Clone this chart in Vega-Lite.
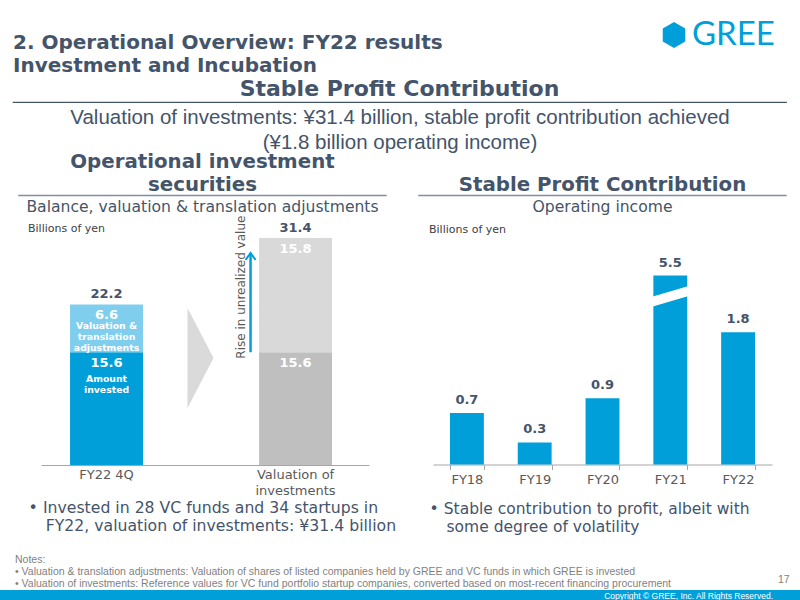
{
  "$schema": "https://vega.github.io/schema/vega-lite/v6.json",
  "padding": 0,
  "background": "white",
  "spacing": 0,
  "config": {
    "view": {"stroke": null},
    "font": "DejaVu Sans",
    "title": {"color": "#44546A", "subtitleColor": "#44546A", "fontWeight": "bold", "subtitleFontWeight": "normal", "offset": 0, "subtitlePadding": 0, "baseline": "top"},
    "axis": {"grid": false, "labelFont": "DejaVu Sans", "titleFont": "DejaVu Sans"}
  },
  "datasets": {
    "securities": [
      {"category": "FY22 4Q", "segment": "Amount invested", "value": 15.6, "note": "Amount\ninvested"},
      {"category": "FY22 4Q", "segment": "Valuation & translation adjustments", "value": 6.6, "note": "Valuation &\ntranslation\nadjustments"},
      {"category": "Valuation of investments", "segment": "Cost basis", "value": 15.6, "note": ""},
      {"category": "Valuation of investments", "segment": "Rise in unrealized value", "value": 15.8, "note": ""}
    ],
    "income": [
      {"year": "FY18", "income": 0.7},
      {"year": "FY19", "income": 0.3},
      {"year": "FY20", "income": 0.9},
      {"year": "FY21", "income": 5.5},
      {"year": "FY22", "income": 1.8}
    ]
  },
  "vconcat": [
    {
      "spacing": 0,
      "hconcat": [
        {
          "width": 640, "height": 0.01,
          "data": {"values": []}, "mark": "point",
          "title": {"text": ["2. Operational Overview: FY22 results", "Investment and Incubation"], "orient": "bottom", "anchor": "start", "fontSize": 20, "lineHeight": 23, "offset": 33, "dx": 13}
        },
        {
          "width": 160, "height": 70,
          "data": {"values": [{"brand": "GREE"}]},
          "layer": [
            {"mark": {"type": "point", "shape": "M 0 -1 L 0.866 -0.5 L 0.866 0.5 L 0 1 L -0.866 0.5 L -0.866 -0.5 Z", "size": 676, "filled": true, "opacity": 1, "color": "#009FDA", "strokeWidth": 0, "xOffset": -46}, "encoding": {}},
            {"mark": {"type": "text", "align": "left", "baseline": "middle", "dx": -28, "fontSize": 33, "font": "Lato", "color": "#009FDA"}, "encoding": {"text": {"field": "brand"}}}
          ]
        }
      ]
    },
    {
      "spacing": 0,
      "hconcat": [
        {"width": 12, "height": 0.01, "data": {"values": []}, "mark": "point"},
        {
          "width": 773, "height": 0.01,
          "data": {"values": []}, "mark": "point",
          "view": {"stroke": "#44546A", "strokeWidth": 1.2},
          "title": {"text": "Stable Profit Contribution", "fontSize": 22, "offset": 1}
        }
      ]
    },
    {
      "spacing": -3.5,
      "vconcat": [
        {
          "width": 800, "height": 0.01,
          "data": {"values": []}, "mark": "point",
          "title": {
            "text": "Valuation of investments: ¥31.4 billion, stable profit contribution achieved",
            "subtitle": "(¥1.8 billion operating income)",
            "orient": "bottom", "offset": 5,
            "font": "Liberation Sans", "subtitleFont": "Liberation Sans", "fontSize": 20.5, "subtitleFontSize": 20.5,
            "fontWeight": "normal", "subtitlePadding": 4.5
          }
        },
        {
          "spacing": 0,
          "hconcat": [
            {"width": 18, "height": 0.01, "data": {"values": []}, "mark": "point"},
            {
              "spacing": 0,
              "vconcat": [
                {
                  "width": 367, "height": 0.01,
                  "data": {"values": []}, "mark": "point",
                  "view": {"stroke": "#7F8FA4", "strokeWidth": 1.5},
                  "title": {"text": ["Operational investment", "securities"], "fontSize": 19.8, "lineHeight": 23, "offset": 1}
                },
                {
                  "width": 367, "height": 0.01,
                  "data": {"values": []}, "mark": "point",
                  "title": {"text": "Balance, valuation & translation adjustments", "orient": "bottom", "fontSize": 15.6, "fontWeight": "normal", "offset": 3}
                },
                {
                  "width": 367, "height": 243.5,
                  "data": {"name": "securities"},
                  "title": {"text": "Billions of yen", "anchor": "start", "frame": "group", "dx": 9, "fontSize": 11, "fontWeight": "normal", "color": "#404040", "offset": -18},
                  "encoding": {
                    "x": {
                      "field": "category", "type": "nominal", "sort": null,
                      "scale": {"range": [22, 350], "paddingInner": 0.614, "paddingOuter": 0.1746, "align": 0.44},
                      "axis": {
                        "labelAngle": 0, "labelFontSize": 13, "labelColor": "#595959", "labelPadding": 3.5, "labelLineHeight": 16,
                        "labelExpr": "datum.value == 'Valuation of investments' ? ['Valuation of', 'investments'] : datum.value",
                        "ticks": false, "domainColor": "#A6A6A6", "domainWidth": 1,
                        "title": ["•\u2004Invested in 28 VC funds and 34 startups in", "\u200d\u2002\u2002\u200aFY22, valuation of investments: ¥31.4 billion"],
                        "titleX": 9, "titleY": 47, "titleAlign": "left", "titleAnchor": "start", "titleBaseline": "alphabetic",
                        "titleFontSize": 15.7, "titleFontWeight": "normal", "titleColor": "#44546A", "titleLineHeight": 18
                      }
                    }
                  },
                  "layer": [
                    {
                      "mark": {"type": "bar"},
                      "encoding": {
                        "y": {"field": "value", "type": "quantitative", "stack": "zero", "scale": {"domain": [0, 33.68], "nice": false}, "axis": null},
                        "color": {
                          "field": "segment", "type": "nominal", "legend": null,
                          "scale": {"domain": ["Amount invested", "Valuation & translation adjustments", "Cost basis", "Rise in unrealized value"], "range": ["#009FDA", "#80CEEE", "#BFBFBF", "#D9D9D9"]}
                        },
                        "order": {"field": "segment", "type": "ordinal"}
                      }
                    },
                    {
                      "mark": {"type": "text", "baseline": "alphabetic", "dy": 15, "fontSize": 13, "fontWeight": "bold", "color": "white"},
                      "encoding": {
                        "y": {"field": "value", "type": "quantitative", "stack": "zero", "axis": null},
                        "detail": {"field": "segment"},
                        "order": {"field": "segment", "type": "ordinal"},
                        "text": {"field": "value", "type": "quantitative", "format": ".1f"}
                      }
                    },
                    {
                      "mark": {"type": "text", "baseline": "alphabetic", "dy": 25, "fontSize": 9.3, "fontWeight": "bold", "color": "white", "lineBreak": "\n", "lineHeight": 10.7},
                      "encoding": {
                        "y": {"field": "value", "type": "quantitative", "stack": "zero", "axis": null},
                        "detail": {"field": "segment"},
                        "order": {"field": "segment", "type": "ordinal"},
                        "text": {"condition": {"test": "datum.segment === 'Valuation & translation adjustments'", "field": "note"}, "value": ""}
                      }
                    },
                    {
                      "mark": {"type": "text", "baseline": "alphabetic", "dy": 30, "fontSize": 9.3, "fontWeight": "bold", "color": "white", "lineBreak": "\n", "lineHeight": 10.7},
                      "encoding": {
                        "y": {"field": "value", "type": "quantitative", "stack": "zero", "axis": null},
                        "detail": {"field": "segment"},
                        "order": {"field": "segment", "type": "ordinal"},
                        "text": {"condition": {"test": "datum.segment === 'Amount invested'", "field": "note"}, "value": ""}
                      }
                    },
                    {
                      "transform": [{"aggregate": [{"op": "sum", "field": "value", "as": "total"}], "groupby": ["category"]}],
                      "mark": {"type": "text", "baseline": "alphabetic", "dy": -6, "fontSize": 13, "fontWeight": "bold", "color": "#44546A"},
                      "encoding": {
                        "y": {"field": "total", "type": "quantitative", "axis": null},
                        "text": {"field": "total", "type": "quantitative", "format": ".1f"}
                      }
                    },
                    {
                      "transform": [{"filter": "datum.segment === 'Rise in unrealized value'"}],
                      "mark": {"type": "rule", "color": "#009FDA", "strokeWidth": 2.5, "xOffset": -45},
                      "encoding": {"y": {"datum": 15.6, "axis": null}, "y2": {"datum": 29.33}}
                    },
                    {
                      "transform": [{"filter": "datum.segment === 'Rise in unrealized value'"}],
                      "mark": {"type": "point", "shape": "M -1 1.4 L 0 0 L 1 1.4", "size": 100, "filled": false, "opacity": 1, "color": "#009FDA", "strokeWidth": 2, "xOffset": -45},
                      "encoding": {"y": {"datum": 29.33, "axis": null}}
                    },
                    {
                      "transform": [{"filter": "datum.segment === 'Rise in unrealized value'"}],
                      "mark": {"type": "text", "angle": 270, "align": "center", "baseline": "middle", "fontSize": 12, "color": "#595959", "xOffset": -55},
                      "encoding": {"y": {"datum": 24.6, "axis": null}, "text": {"field": "segment"}}
                    },
                    {
                      "data": {"values": [{"step": "FY22 4Q to valuation"}]},
                      "mark": {"type": "point", "shape": "M -0.26 -1 L 0.26 0 L -0.26 1 Z", "size": 10000, "filled": true, "opacity": 1, "color": "#DADADA", "strokeWidth": 0, "xOffset": 94},
                      "encoding": {"x": {"datum": "FY22 4Q"}, "y": {"datum": 14.8, "axis": null}}
                    }
                  ]
                }
              ]
            },
            {"width": 22, "height": 0.01, "data": {"values": []}, "mark": "point"},
            {
              "spacing": 0,
              "vconcat": [
                {
                  "width": 367, "height": 0.01,
                  "data": {"values": []}, "mark": "point",
                  "view": {"stroke": "#7F8FA4", "strokeWidth": 1.5},
                  "title": {"text": ["", "Stable Profit Contribution"], "fontSize": 19.8, "lineHeight": 23, "offset": 1}
                },
                {
                  "width": 367, "height": 0.01,
                  "data": {"values": []}, "mark": "point",
                  "title": {"text": "Operating income", "orient": "bottom", "fontSize": 15.6, "fontWeight": "normal", "offset": 3}
                },
                {
                  "width": 367, "height": 189,
                  "data": {"name": "income"},
                  "title": {"text": ["", "Billions of yen"], "anchor": "start", "frame": "group", "dx": 10, "fontSize": 11, "lineHeight": 8, "fontWeight": "normal", "color": "#404040", "offset": 22},
                  "encoding": {
                    "x": {
                      "field": "year", "type": "nominal", "sort": null,
                      "scale": {"range": [14, 353], "paddingInner": 0.5, "paddingOuter": 0.25},
                      "axis": {
                        "labelAngle": 0, "labelFontSize": 13, "labelColor": "#595959", "labelPadding": 3.5,
                        "ticks": true, "tickBand": "extent", "tickSize": 5, "tickColor": "#A6A6A6", "domainColor": "#A6A6A6", "domainWidth": 1,
                        "title": ["•\u2004Stable contribution to profit, albeit with", "\u200d\u2002\u2002\u200asome degree of volatility"],
                        "titleX": 10, "titleY": 49, "titleAlign": "left", "titleAnchor": "start", "titleBaseline": "alphabetic",
                        "titleFontSize": 15.5, "titleFontWeight": "normal", "titleColor": "#44546A", "titleLineHeight": 18
                      }
                    }
                  },
                  "layer": [
                    {
                      "mark": {"type": "bar", "color": "#009FDA"},
                      "encoding": {
                        "y": {"field": "income", "type": "quantitative", "scale": {"domain": [0, 2.571], "nice": false, "clamp": true}, "axis": null}
                      }
                    },
                    {
                      "mark": {"type": "text", "baseline": "alphabetic", "dy": -9, "fontSize": 13, "fontWeight": "bold", "color": "#44546A"},
                      "encoding": {
                        "y": {"field": "income", "type": "quantitative", "axis": null},
                        "text": {"field": "income", "type": "quantitative", "format": ".1f"}
                      }
                    },
                    {
                      "transform": [{"filter": "datum.income > 2.571"}],
                      "mark": {"type": "point", "shape": "M -1 0.045 L 1 -0.545 L 1 -0.045 L -1 0.545 Z", "size": 1600, "filled": true, "opacity": 1, "color": "white", "strokeWidth": 0},
                      "encoding": {"y": {"datum": 2.286, "axis": null}}
                    }
                  ]
                }
              ]
            }
          ]
        }
      ]
    },
    {
      "spacing": 0,
      "hconcat": [
        {
          "width": 770, "height": 0.01,
          "data": {"values": []}, "mark": "point",
          "title": {
            "text": "Notes:",
            "subtitle": ["• Valuation & translation adjustments: Valuation of shares of listed companies held by GREE and VC funds in which GREE is invested", "• Valuation of investments: Reference values for VC fund portfolio startup companies, converted based on most-recent financing procurement"],
            "orient": "bottom", "anchor": "start", "offset": 19.5, "dx": 15,
            "font": "Liberation Sans", "subtitleFont": "Liberation Sans", "fontSize": 10.5, "subtitleFontSize": 10.5,
            "fontWeight": "normal", "color": "#7F7F7F", "subtitleColor": "#7F7F7F", "subtitlePadding": 1.5, "subtitleLineHeight": 12
          }
        },
        {
          "width": 30, "height": 0.01,
          "data": {"values": []}, "mark": "point",
          "title": {"text": "17", "orient": "bottom", "anchor": "start", "offset": 40, "dx": 8, "font": "Liberation Sans", "fontSize": 10.5, "fontWeight": "normal", "color": "#7F7F7F"}
        }
      ]
    },
    {
      "width": 800, "height": 12,
      "data": {"values": []}, "mark": "point",
      "view": {"fill": "#009FDA", "stroke": null},
      "title": {"text": "Copyright © GREE, Inc. All Rights Reserved.", "orient": "bottom", "anchor": "end", "baseline": "middle", "offset": -6, "dx": -27, "font": "Liberation Sans", "fontSize": 8.5, "fontWeight": "normal", "color": "white"}
    }
  ]
}
